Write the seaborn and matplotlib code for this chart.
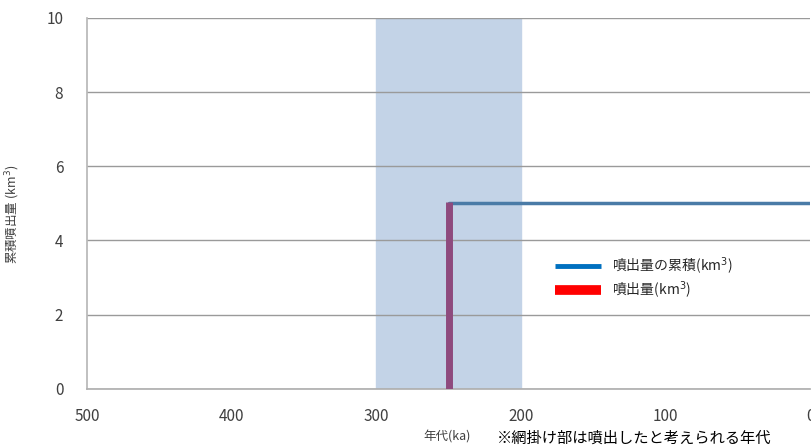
import pandas as pd
import matplotlib.pyplot as plt
import seaborn as sns
from matplotlib.lines import Line2D

# data
cum_age = [250, 250, 0]          # ka
cum_volume = [0.0, 5.0, 5.0]     # km3, cumulative
erupt_age = [250]
erupt_volume = [5.05]
shade_range = [300, 200]         # ka, estimated eruption period
x_ticks = [500, 400, 300, 200, 100, 0]
y_ticks = [0, 2, 4, 6, 8, 10]

sns.set_theme(style='white')
plt.rcParams['font.family'] = ['Noto Sans CJK JP', 'DejaVu Sans']

fig = plt.figure(figsize=(8.12, 4.47), dpi=100)
ax = fig.add_axes([0.107, 0.130, 0.891, 0.830])

ax.axvspan(shade_range[0], shade_range[1], color='#c3d3e7', zorder=0)

df_cum = pd.DataFrame({'age': cum_age, 'vol': cum_volume})
sns.lineplot(data=df_cum, x='age', y='vol', sort=False, estimator=None, ax=ax,
             color='#4a7ba7', linewidth=2.5, zorder=3)
ax.vlines(erupt_age, 0, erupt_volume, color='#8e4a7e', linewidth=5, zorder=4)

ax.set_xlim(500, 0)
ax.set_ylim(0, 10)
ax.set_xticks(x_ticks)
ax.set_yticks(y_ticks)
ax.tick_params(axis='x', direction='in', length=5, color='#b0b0b0', labelsize=11, pad=14,
               labelcolor='#404040')
ax.tick_params(axis='y', length=0, labelsize=11, pad=17, labelcolor='#404040')
ax.yaxis.grid(True, color='#9a9a9a', linewidth=1)
for side in ['top', 'right']:
    ax.spines[side].set_visible(False)
ax.spines['left'].set_color('#b8b8b8')
ax.spines['bottom'].set_color('#b0b0b0')
ax.set_xlabel('')
ax.set_ylabel('累積噴出量 (km$^3$)', fontsize=9, color='#404040')
ax.yaxis.set_label_coords(-(87 - 22) / 723, 0.47)

handles = [Line2D([], [], color='#0070c0', linewidth=3.5, solid_capstyle='butt'),
           Line2D([], [], color='#ff0000', linewidth=7, solid_capstyle='butt')]
ax.legend(handles, ['噴出量の累積(km$^3$)', '噴出量(km$^3$)'], frameon=False,
          loc='upper left', bbox_to_anchor=(0.64, 0.375), fontsize=10,
          handlelength=3.3, labelspacing=0.2, handletextpad=0.8, borderaxespad=0)

fig.text(447 / 812, 1 - 437 / 447, '年代(ka)', fontsize=9, color='#404040',
         ha='center', va='center')
fig.text(497 / 812, 1 - 438 / 447, '※網掛け部は噴出したと考えられる年代', fontsize=11,
         color='black', ha='left', va='center')

plt.savefig('out.png', dpi=100)
plt.close(fig)
